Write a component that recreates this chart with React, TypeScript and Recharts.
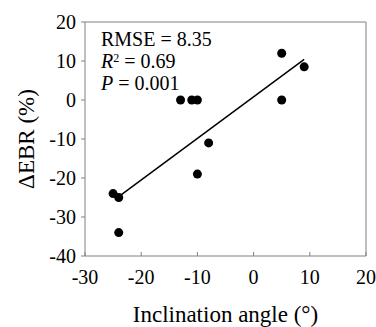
import React from 'react';
import {
  ComposedChart,
  Scatter,
  XAxis,
  YAxis,
  ReferenceLine,
  Customized,
} from 'recharts';

// observed points
const angle = [-25, -24, -24, -13, -11, -10, -10, -8, 5, 5, 9];
const debr = [-24, -25, -34, 0, 0, 0, -19, -11, 12, 0, 8.5];

// regression line end points
const fitAngle = [-24, 9];
const fitDebr = [-24.8, 10.4];

const xTicks = [-30, -20, -10, 0, 10, 20];
const yTicks = [-40, -30, -20, -10, 0, 10, 20];

const stats = ['8.35', '0.69', '0.001'];

const points = angle.map((x, i) => ({ x, y: debr[i] }));
const fit = fitAngle.map((x, i) => ({ x, y: fitDebr[i] }));

const FONT = 'Liberation Serif';
const AXIS = '#808080';

const Dot = (props: any) => <circle cx={props.cx} cy={props.cy} r={4.5} fill="#000" />;

const YTitle = (props: any) => {
  const vb = props.viewBox;
  const cx = 26;
  const cy = vb.y + vb.height / 2;
  return (
    <text
      x={cx}
      y={cy}
      transform={`rotate(-90 ${cx} ${cy})`}
      textAnchor="middle"
      dominantBaseline="central"
      fontFamily={FONT}
      fontSize={23}
      fill="#000"
    >
      ΔEBR (%)
    </text>
  );
};

const Stats = () => (
  <g fontFamily={FONT} fontSize={20} fill="#000">
    <text x={101} y={46}>RMSE = {stats[0]}</text>
    <text x={101} y={68}>
      <tspan fontStyle="italic">R</tspan>
      <tspan fontSize={12} dy={-6}>2</tspan>
      <tspan dy={6}> = {stats[1]}</tspan>
    </text>
    <text x={101} y={90}>
      <tspan fontStyle="italic">P</tspan> = {stats[2]}
    </text>
  </g>
);

export default function App() {
  return (
    <div style={{ position: 'absolute', left: 0, top: 0, width: 376, height: 327, background: '#fff' }}>
      <ComposedChart width={376} height={327} margin={{ top: 22, right: 10, bottom: 0, left: 0 }}>
        <XAxis
          type="number"
          dataKey="x"
          domain={[-30, 20]}
          ticks={xTicks}
          height={71}
          stroke={AXIS}
          tickSize={-4}
          tickMargin={18}
          tick={{ fill: '#000', fontFamily: FONT, fontSize: 20 }}
          label={{
            value: 'Inclination angle (°)',
            position: 'insideBottom',
            offset: 5,
            fill: '#000',
            fontFamily: FONT,
            fontSize: 23,
          }}
        />
        <YAxis
          type="number"
          dataKey="y"
          domain={[-40, 20]}
          ticks={yTicks}
          width={85}
          stroke={AXIS}
          tickSize={4}
          tickMargin={5}
          tick={{ fill: '#000', fontFamily: FONT, fontSize: 20 }}
          label={<YTitle />}
        />
        <ReferenceLine y={20} stroke={AXIS} />
        <ReferenceLine x={20} stroke={AXIS} />
        <Scatter
          data={fit}
          line={{ stroke: '#000', strokeWidth: 1.5 }}
          shape={() => null}
          isAnimationActive={false}
        />
        <Scatter data={points} shape={Dot} fill="#000" isAnimationActive={false} />
        <Customized component={Stats} />
      </ComposedChart>
    </div>
  );
}
